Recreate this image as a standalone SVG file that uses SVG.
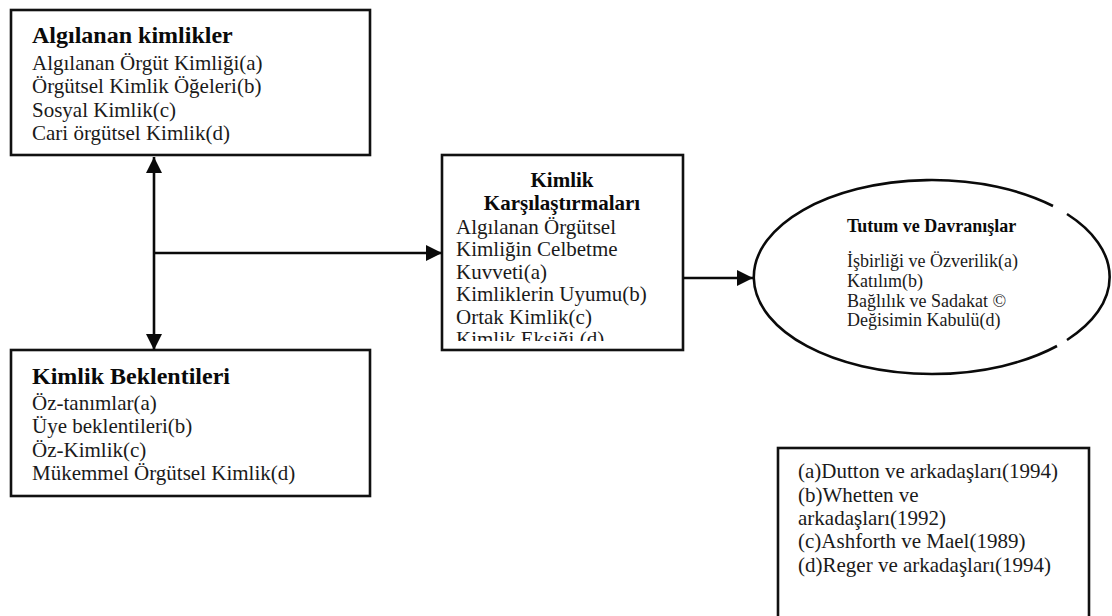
<svg xmlns="http://www.w3.org/2000/svg" width="1112" height="616" viewBox="0 0 1112 616">
<style>
.box{fill:#fff;stroke:#111;stroke-width:2.6}
.t{font-family:"Liberation Serif","Times New Roman",serif;fill:#1a1a1a}
.h{font-weight:bold;fill:#0a0a0a}
.b21{font-size:21px}
.b18{font-size:18px}
.conn{stroke:#0a0a0a;stroke-width:2.6;fill:none}
</style>
<defs>
<marker id="ah" markerUnits="userSpaceOnUse" markerWidth="16" markerHeight="16" refX="16" refY="8" orient="auto-start-reverse" viewBox="0 0 16 16">
<path d="M0,0 L16,8 L0,16 z" fill="#0a0a0a"/>
</marker>
<clipPath id="midclip"><rect x="443" y="156" width="239" height="185"/></clipPath>
</defs>
<rect width="1112" height="616" fill="#fff"/>

<g id="algilanan">
<rect class="box" x="11" y="10" width="359" height="145"/>
<text class="t h" x="32" y="43" font-size="24">Algılanan kimlikler</text>
<text class="t b21" x="32" y="70">Algılanan Örgüt Kimliği(a)</text>
<text class="t b21" x="32" y="93">Örgütsel Kimlik Öğeleri(b)</text>
<text class="t b21" x="32" y="117">Sosyal Kimlik(c)</text>
<text class="t b21" x="32" y="140">Cari örgütsel Kimlik(d)</text>
</g>

<g id="beklentiler">
<rect class="box" x="11" y="350" width="359" height="146"/>
<text class="t h" x="32" y="384" font-size="24">Kimlik Beklentileri</text>
<text class="t b21" x="32" y="410">Öz-tanımlar(a)</text>
<text class="t b21" x="32" y="433">Üye beklentileri(b)</text>
<text class="t b21" x="32" y="457">Öz-Kimlik(c)</text>
<text class="t b21" x="32" y="480">Mükemmel Örgütsel Kimlik(d)</text>
</g>

<g id="karsilastirmalar">
<rect class="box" x="442" y="155" width="241" height="195"/>
<text class="t h" x="562" y="187" font-size="21" text-anchor="middle">Kimlik</text>
<text class="t h" x="562" y="210" font-size="21" text-anchor="middle">Karşılaştırmaları</text>
<g clip-path="url(#midclip)">
<text class="t b21" x="456" y="234">Algılanan Örgütsel</text>
<text class="t b21" x="456" y="256.4">Kimliğin Celbetme</text>
<text class="t b21" x="456" y="278.8">Kuvveti(a)</text>
<text class="t b21" x="456" y="301.2">Kimliklerin Uyumu(b)</text>
<text class="t b21" x="456" y="323.6">Ortak Kimlik(c)</text>
<text class="t b21" x="456" y="346">Kimlik Eksiği (d)</text>
</g>
</g>

<g id="tutum">
<path class="conn" d="M1053,206 A178,97 0 1 0 1057,346"/>
<path class="conn" d="M1067,340 A178,97 0 0 0 1067,214"/>
<text class="t h" x="847" y="232" font-size="18">Tutum ve Davranışlar</text>
<text class="t b18" x="847" y="267">İşbirliği ve Özverilik(a)</text>
<text class="t b18" x="847" y="287">Katılım(b)</text>
<text class="t b18" x="847" y="307">Bağlılık ve Sadakat ©</text>
<text class="t b18" x="847" y="326">Değisimin Kabulü(d)</text>
</g>

<g id="kaynaklar">
<rect class="box" x="778" y="448" width="311" height="175"/>
<text class="t b21" x="798" y="478">(a)Dutton ve arkadaşları(1994)</text>
<text class="t b21" x="798" y="502">(b)Whetten ve</text>
<text class="t b21" x="798" y="525">arkadaşları(1992)</text>
<text class="t b21" x="798" y="548">(c)Ashforth ve Mael(1989)</text>
<text class="t b21" x="798" y="572">(d)Reger ve arkadaşları(1994)</text>
</g>

<g id="connectors">
<line class="conn" x1="154" y1="157" x2="154" y2="350" marker-start="url(#ah)" marker-end="url(#ah)"/>
<line class="conn" x1="154" y1="253" x2="442" y2="253" marker-end="url(#ah)"/>
<line class="conn" x1="683" y1="278" x2="753" y2="278" marker-end="url(#ah)"/>
</g>
</svg>
